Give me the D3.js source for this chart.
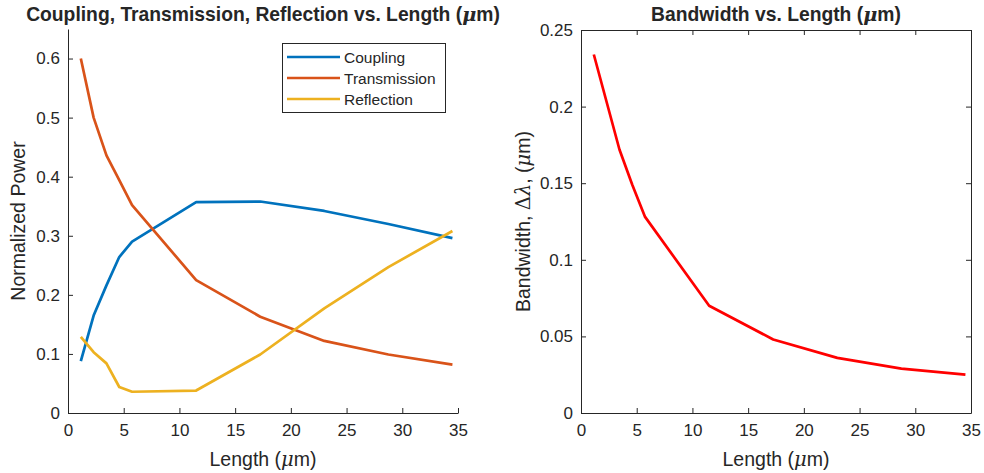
<!DOCTYPE html>
<html><head><meta charset="utf-8">
<script src="https://cdn.jsdelivr.net/npm/d3@7"></script>
<style>body{margin:0;background:#fff}svg{display:block}text{font-family:Arial,"Liberation Sans",Helvetica,sans-serif;fill:#262626}</style>
</head><body><svg id="c" width="984" height="473"></svg>
<script>
const lengths = [1.15, 2.3, 3.45, 4.6, 5.75, 11.5, 17.25, 23, 28.75, 34.5];
const coupling = [0.088, 0.165, 0.216, 0.264, 0.290, 0.357, 0.358, 0.342, 0.320, 0.296];
const transmission = [0.600, 0.500, 0.436, 0.394, 0.352, 0.225, 0.163, 0.122, 0.099, 0.082];
const reflection = [0.129, 0.103, 0.084, 0.044, 0.036, 0.038, 0.099, 0.177, 0.247, 0.308];
const bandwidth = [0.234, 0.203, 0.172, 0.149, 0.128, 0.070, 0.048, 0.036, 0.029, 0.025];
const xTicks = [0, 5, 10, 15, 20, 25, 30, 35];
const yTicksLeft = [0, 0.1, 0.2, 0.3, 0.4, 0.5, 0.6];
const yTicksRight = [0, 0.05, 0.1, 0.15, 0.2, 0.25];
const seriesNames = ["Coupling", "Transmission", "Reflection"];
const seriesColors = ["#0072BD", "#D95319", "#EDB120"];

const svg = d3.select("#c");
const axisColor = "#262626";
const TICK = 5;
const TICKFONT = "17px", LABELFONT = "19.5px", TITLEFONT = "19.3px";

function styleAxis(g){
  g.selectAll("path.domain").attr("stroke", axisColor).attr("stroke-width", 1);
  g.selectAll(".tick line").attr("stroke", axisColor);
  g.selectAll(".tick text").attr("fill", axisColor).style("font-size", TICKFONT).attr("font-family", "Arial, 'Liberation Sans', sans-serif");
}
function muLabel(t, pre, post){
  t.append("tspan").text(pre);
  t.append("tspan").attr("font-family","'DejaVu Serif',serif").attr("font-style","italic").text("\u03bc");
  t.append("tspan").text(post);
}

// ---------- Left chart ----------
const L = {x0: 68, x1: 458, y0: 413, y1: 29};
const xL = d3.scaleLinear().domain([0, 35]).range([L.x0, L.x1]);
const yL = d3.scaleLinear().domain([0, 0.65]).range([L.y0, L.y1]);

const gxL = svg.append("g").attr("transform", `translate(0,${L.y0})`)
  .call(d3.axisBottom(xL).tickValues(xTicks).tickSizeInner(-TICK).tickSizeOuter(0).tickPadding(11).tickFormat(d3.format("d")));
styleAxis(gxL);
const gyL = svg.append("g").attr("transform", `translate(${L.x0},0)`)
  .call(d3.axisLeft(yL).tickValues(yTicksLeft).tickSizeInner(-TICK).tickSizeOuter(0).tickPadding(8).tickFormat(d => String(+d.toFixed(2))));
styleAxis(gyL);

const lineL = d3.line().x((d,i) => xL(lengths[i])).y(d => yL(d));
[coupling, transmission, reflection].forEach((s, k) => {
  svg.append("path").datum(s).attr("d", lineL).attr("fill","none")
    .attr("stroke", seriesColors[k]).attr("stroke-width", 2.7).attr("stroke-linejoin","round");
});

svg.append("text").attr("x", (L.x0+L.x1)/2).attr("y", 21).attr("text-anchor","middle")
  .style("font-size",TITLEFONT).style("font-weight","bold").call(t => muLabel(t, "Coupling, Transmission, Reflection vs. Length (", "m)"));
svg.append("text").attr("x", (L.x0+L.x1)/2).attr("y", 466).attr("text-anchor","middle")
  .style("font-size",LABELFONT).call(t => muLabel(t, "Length (", "m)"));
svg.append("text").attr("transform", `translate(25,${(L.y0+L.y1)/2}) rotate(-90)`).attr("text-anchor","middle")
  .style("font-size",LABELFONT).text("Normalized Power");

// legend
const lg = svg.append("g");
lg.append("rect").attr("x", 282.5).attr("y", 43.5).attr("width", 163).attr("height", 69)
  .attr("fill","#fff").attr("stroke", axisColor).attr("stroke-width", 1);
seriesNames.forEach((n, k) => {
  const yy = 57 + k*21;
  lg.append("line").attr("x1", 287).attr("x2", 340).attr("y1", yy).attr("y2", yy)
    .attr("stroke", seriesColors[k]).attr("stroke-width", 2.7);
  lg.append("text").attr("x", 344).attr("y", yy + 5.5).style("font-size","15.5px").attr("fill", "#000").text(n);
});

// ---------- Right chart ----------
const R = {x0: 581, x1: 971, y0: 413, y1: 30};
const xR = d3.scaleLinear().domain([0, 35]).range([R.x0, R.x1]);
const yR = d3.scaleLinear().domain([0, 0.25]).range([R.y0, R.y1]);

const gxR = svg.append("g").attr("transform", `translate(0,${R.y0})`)
  .call(d3.axisBottom(xR).tickValues(xTicks).tickSizeInner(-TICK).tickSizeOuter(0).tickPadding(11).tickFormat(d3.format("d")));
styleAxis(gxR);
const gyR = svg.append("g").attr("transform", `translate(${R.x0},0)`)
  .call(d3.axisLeft(yR).tickValues(yTicksRight).tickSizeInner(-TICK).tickSizeOuter(0).tickPadding(8).tickFormat(d => String(+d.toFixed(2))));
styleAxis(gyR);
const gxRt = svg.append("g").attr("transform", `translate(0,${R.y1})`)
  .call(d3.axisTop(xR).tickValues(xTicks).tickSizeInner(-TICK).tickSizeOuter(0).tickFormat(""));
styleAxis(gxRt);
const gyRr = svg.append("g").attr("transform", `translate(${R.x1},0)`)
  .call(d3.axisRight(yR).tickValues(yTicksRight).tickSizeInner(-TICK).tickSizeOuter(0).tickFormat(""));
styleAxis(gyRr);

const lineR = d3.line().x((d,i) => xR(lengths[i])).y(d => yR(d));
svg.append("path").datum(bandwidth).attr("d", lineR).attr("fill","none")
  .attr("stroke", "#FF0000").attr("stroke-width", 2.7).attr("stroke-linejoin","round");

svg.append("text").attr("x", (R.x0+R.x1)/2).attr("y", 21).attr("text-anchor","middle")
  .style("font-size",TITLEFONT).style("font-weight","bold").call(t => muLabel(t, "Bandwidth vs. Length (", "m)"));
svg.append("text").attr("x", (R.x0+R.x1)/2).attr("y", 466).attr("text-anchor","middle")
  .style("font-size",LABELFONT).call(t => muLabel(t, "Length (", "m)"));
svg.append("text").attr("transform", `translate(530,${(R.y0+R.y1)/2}) rotate(-90)`).attr("text-anchor","middle")
  .style("font-size",LABELFONT).call(t => {
    t.append("tspan").text("Bandwidth, ");
    t.append("tspan").attr("font-family","'DejaVu Serif',serif").text("\u0394");
    t.append("tspan").attr("font-family","'DejaVu Serif',serif").attr("font-style","italic").text("\u03bb");
    t.append("tspan").text(", (");
    t.append("tspan").attr("font-family","'DejaVu Serif',serif").attr("font-style","italic").text("\u03bc");
    t.append("tspan").text("m)");
  });
</script></body></html>
